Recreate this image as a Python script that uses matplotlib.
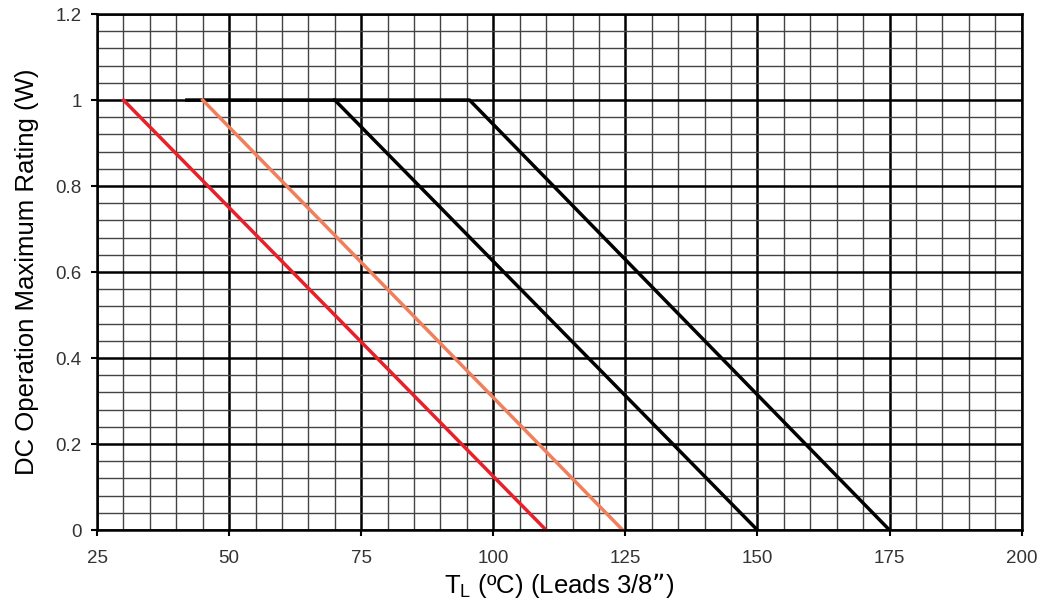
import numpy as np
import matplotlib
matplotlib.use("Agg")
import matplotlib.pyplot as plt
from matplotlib.ticker import MultipleLocator

plt.rcParams['font.family'] = ['Liberation Sans', 'DejaVu Sans']

# derating curves: temperature (C) vs max power (W)
red_t = [30, 110]
red_p = [1, 0]
orange_t = [45, 124.5]
orange_p = [1, 0]
black1_t = [42, 70, 150]
black1_p = [1, 1, 0]
black2_t = [70, 95.5, 175]
black2_p = [1, 1, 0]

xticks = [25, 50, 75, 100, 125, 150, 175, 200]
yticks = [0, 0.2, 0.4, 0.6, 0.8, 1, 1.2]
ytick_labels = ['0', '0.2', '0.4', '0.6', '0.8', '1', '1.2']

fig = plt.figure(figsize=(10.5, 6.1), dpi=100)
ax = fig.add_axes([0.0924, 0.131, 0.8806, 0.846])

ax.set_xlim(25, 200)
ax.set_ylim(0, 1.2)
ax.set_xticks(xticks)
ax.set_yticks(yticks)
ax.set_yticklabels(ytick_labels)
ax.xaxis.set_minor_locator(MultipleLocator(5))
ax.yaxis.set_minor_locator(MultipleLocator(0.04))

ax.grid(which='minor', color='#444444', linewidth=1.0)
ax.grid(which='major', color='black', linewidth=1.8)
ax.set_axisbelow(True)
ax.tick_params(which='minor', length=0)
ax.tick_params(which='major', length=4, width=1.5, labelsize=13.5,
               labelcolor='#333333', pad=7)
ax.tick_params(axis='x', which='major', pad=10)
for s in ax.spines.values():
    s.set_linewidth(1.8)

ax.plot(black1_t, black1_p, color='black', linewidth=2.5)
ax.plot(black2_t, black2_p, color='black', linewidth=2.5)
ax.plot(orange_t, orange_p, color='#f07f5c', linewidth=2.5)
ax.plot(red_t, red_p, color='#e8202a', linewidth=2.5)

ax.set_xlabel('T$_\\mathregular{L}$ (ºC) (Leads 3/8”)', fontsize=18.5, labelpad=3)
ax.set_ylabel('DC Operation Maximum Rating (W)', fontsize=18.5, labelpad=12)

fig.savefig('out.png', dpi=100)
